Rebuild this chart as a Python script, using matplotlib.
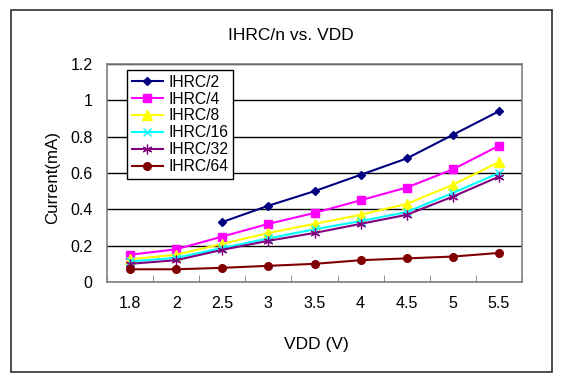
import matplotlib
matplotlib.use("Agg")
import matplotlib.pyplot as plt
import numpy as np
from matplotlib.patches import Rectangle

plt.rcParams['font.family'] = ['Liberation Sans', 'DejaVu Sans']

categories = ["1.8", "2", "2.5", "3", "3.5", "4", "4.5", "5", "5.5"]
ihrc2 = [np.nan, np.nan, 0.33, 0.42, 0.50, 0.59, 0.68, 0.81, 0.94]
ihrc4 = [0.15, 0.18, 0.25, 0.32, 0.38, 0.45, 0.52, 0.62, 0.75]
ihrc8 = [0.125, 0.15, 0.21, 0.27, 0.32, 0.37, 0.43, 0.535, 0.66]
ihrc16 = [0.113, 0.133, 0.187, 0.24, 0.29, 0.335, 0.385, 0.49, 0.60]
ihrc32 = [0.10, 0.12, 0.177, 0.227, 0.27, 0.32, 0.37, 0.47, 0.58]
ihrc64 = [0.07, 0.07, 0.078, 0.089, 0.10, 0.12, 0.13, 0.14, 0.16]
series_names = ["IHRC/2", "IHRC/4", "IHRC/8", "IHRC/16", "IHRC/32", "IHRC/64"]
y_ticks = [0, 0.2, 0.4, 0.6, 0.8, 1, 1.2]
y_tick_labels = ["0", "0.2", "0.4", "0.6", "0.8", "1", "1.2"]

W, H = 565, 380
fig = plt.figure(figsize=(W / 100, H / 100), dpi=100)
fig.patch.set_facecolor('white')

# outer chart frame
fig.patches.append(Rectangle((10.5 / W, 1 - 372 / H), (552 - 10.5) / W, (372 - 10) / H,
                             transform=fig.transFigure, fill=False,
                             edgecolor='#303030', linewidth=1.2))

left, right, top, bottom = 107, 522, 64, 282
ax = fig.add_axes([left / W, 1 - bottom / H, (right - left) / W, (bottom - top) / H])

x = np.arange(len(categories))
styles = [
    dict(color='#000080', marker='D', ms=4.5),
    dict(color='#FF00FF', marker='s', ms=5.5),
    dict(color='#FFFF00', marker='^', ms=6.5),
    dict(color='#00FFFF', marker='x', ms=6, mew=1.0),
    dict(color='#800080', marker=(6, 2, 0), ms=7, mew=0.9),
    dict(color='#800000', marker='o', ms=5.5),
]
data = [ihrc2, ihrc4, ihrc8, ihrc16, ihrc32, ihrc64]
for name, vals, st in zip(series_names, data, styles):
    ax.plot(x, vals, label=name, lw=1.5, **st)

ax.set_xlim(-0.5, len(categories) - 0.5)
ax.set_ylim(0, 1.2)
ax.set_yticks(y_ticks)
ax.set_yticklabels(y_tick_labels, fontsize=11.5)
ax.tick_params(axis='y', length=0, pad=10.5)
ax.set_xticks(x)
ax.set_xticklabels(categories, fontsize=11.5)
ax.tick_params(axis='x', which='major', length=0, pad=10)
ax.set_xticks(np.arange(-0.5, len(categories), 1.0), minor=True)
ax.tick_params(axis='x', which='minor', direction='in', length=5, color='#808080')

ax.yaxis.grid(True, color='black', linewidth=1.0)
ax.set_axisbelow(True)
for s in ax.spines.values():
    s.set_color('#808080')
    s.set_linewidth(1.2)

fig.text(291 / W, 1 - 35 / H, "IHRC/n vs. VDD", ha='center', va='center', fontsize=12.5)
fig.text(316 / W, 1 - 345 / H, "VDD (V)", ha='center', va='center', fontsize=12.5)
fig.text(53 / W, 1 - 178 / H, "Current(mA)", ha='center', va='center', rotation=90, fontsize=12.2)

leg = ax.legend(loc='upper left', bbox_to_anchor=((127 - left) / (right - left), (bottom - 70) / (bottom - top)),
                fontsize=11.3, frameon=True, fancybox=False, borderaxespad=0,
                handlelength=2.0, handletextpad=0.35, labelspacing=0.12, borderpad=0.3)
leg.get_frame().set_edgecolor('black')
leg.get_frame().set_linewidth(1.0)
leg.get_frame().set_alpha(1)

fig.savefig("out.png", dpi=100)
